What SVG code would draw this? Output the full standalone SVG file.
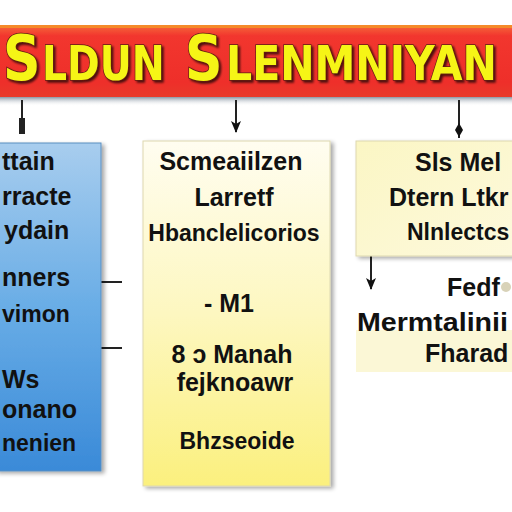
<svg xmlns="http://www.w3.org/2000/svg" width="512" height="512" viewBox="0 0 512 512">
<defs>
<linearGradient id="ban" x1="0" y1="0" x2="0" y2="1">
<stop offset="0" stop-color="#f56a3a"/><stop offset="0.15" stop-color="#f2362e"/><stop offset="0.8" stop-color="#ee2f2a"/><stop offset="1" stop-color="#e83a2a"/>
</linearGradient>
<linearGradient id="sh" x1="0" y1="0" x2="0" y2="1">
<stop offset="0" stop-color="#6f7f90"/><stop offset="1" stop-color="#ffffff" stop-opacity="0"/>
</linearGradient>
<linearGradient id="blue" x1="0" y1="0" x2="0" y2="1">
<stop offset="0" stop-color="#a8cdee"/><stop offset="0.5" stop-color="#69ade6"/><stop offset="1" stop-color="#3a8ad8"/>
</linearGradient>
<linearGradient id="yel" x1="0" y1="0" x2="0" y2="1">
<stop offset="0" stop-color="#fffdf0"/><stop offset="0.5" stop-color="#fdf7c0"/><stop offset="1" stop-color="#fbf07e"/>
</linearGradient>
<linearGradient id="yel2" x1="0" y1="0" x2="1" y2="1">
<stop offset="0" stop-color="#fbf6c4"/><stop offset="1" stop-color="#fdf9dc"/>
</linearGradient>
<filter id="ds" x="-10%" y="-10%" width="130%" height="130%"><feGaussianBlur in="SourceAlpha" stdDeviation="2"/><feOffset dx="3" dy="2"/><feComponentTransfer><feFuncA type="linear" slope="0.35"/></feComponentTransfer><feMerge><feMergeNode/><feMergeNode in="SourceGraphic"/></feMerge></filter>
<filter id="ts" x="-5%" y="-10%" width="110%" height="130%"><feGaussianBlur in="SourceAlpha" stdDeviation="0.8"/><feOffset dx="2" dy="2"/><feComponentTransfer><feFuncA type="linear" slope="0.7"/></feComponentTransfer><feMerge><feMergeNode/><feMergeNode in="SourceGraphic"/></feMerge></filter>
<marker id="ah" viewBox="0 0 12 10" refX="11" refY="5" markerWidth="12" markerHeight="10" orient="auto" markerUnits="userSpaceOnUse"><path d="M0,0 L12,5 L0,10 L3,5 z" fill="#111"/></marker>
</defs>
<style>
.t{font-family:"Liberation Sans","DejaVu Sans",sans-serif;font-weight:bold;font-size:25px;fill:#111}
.s{font-size:23px}
.m{text-anchor:middle}
.title{font-family:"DejaVu Sans",sans-serif;font-weight:bold;fill:#f6f514;stroke:#5a1a10;stroke-width:1.5;paint-order:stroke}
.big{font-size:62px}
.cap{font-size:48px}
.c{stroke:#222;stroke-width:2;fill:none}
</style>
<rect width="512" height="512" fill="#ffffff"/>
<g id="banner">
<rect x="0" y="96" width="512" height="10" fill="url(#sh)"/>
<rect x="0" y="25" width="512" height="72" fill="url(#ban)"/>
<rect x="0" y="25" width="512" height="3" fill="#f58a2a"/>
<g filter="url(#ts)">
<text class="title big" transform="translate(3,80) scale(0.84,1)">S</text>
<text class="title cap" transform="translate(42,80) scale(0.82,1)">LDUN</text>
<text class="title big" transform="translate(185,80) scale(0.84,1)">S</text>
<text class="title cap" transform="translate(226,80) scale(0.855,1)">LENMNIYAN</text>
</g>
</g>
<g id="connectors">
<line class="c" x1="22" y1="100" x2="22" y2="134"/>
<path d="M19,118 h6 v16 h-6 z" fill="#222"/>
<line class="c" x1="236" y1="100" x2="236" y2="132" marker-end="url(#ah)"/>
<line class="c" x1="459" y1="100" x2="459" y2="138"/>
<path d="M459,123 l4,7 l-4,7 l-4,-7 z" fill="#111"/>
<line class="c" x1="101" y1="282" x2="122" y2="282" stroke-width="2.5"/>
<line class="c" x1="101" y1="348" x2="122" y2="348" stroke-width="2.5"/>
<line class="c" x1="371" y1="256" x2="371" y2="289" marker-end="url(#ah)"/>
</g>
<g id="left-box">
<rect x="-5" y="143" width="106" height="328" fill="url(#blue)" stroke="#5a8fc0" stroke-width="1" filter="url(#ds)"/>
<text class="t" x="2" y="170">ttain</text>
<text class="t" x="2" y="205">rracte</text>
<text class="t" x="4" y="239">ydain</text>
<text class="t" x="2" y="286">nners</text>
<text class="t s" x="2" y="322">vimon</text>
<text class="t" x="2" y="388">Ws</text>
<text class="t" x="2" y="418">onano</text>
<text class="t s" x="2" y="451">nenien</text>
</g>
<g id="middle-box">
<rect x="143" y="141" width="187" height="345" fill="url(#yel)" stroke="#ddd8b0" stroke-width="1" filter="url(#ds)"/>
<text class="t m" x="231" y="170">Scmeaiilzen</text>
<text class="t m" x="234" y="206">Larretf</text>
<text class="t m s" x="234" y="241">Hbanclelicorios</text>
<text class="t m" x="229" y="312">- M1</text>
<text class="t m" x="232" y="363">8 ɔ  Manah</text>
<text class="t m" x="235" y="391">fejknoawr</text>
<text class="t m s" x="237" y="449">Bhzseoide</text>
</g>
<g id="right-top-box">
<rect x="356" y="141" width="160" height="115" fill="url(#yel2)" stroke="#ddd8b0" stroke-width="1" filter="url(#ds)"/>
<text class="t" x="415" y="171">Sls Mel</text>
<text class="t" x="389" y="206">Dtern Ltkr</text>
<text class="t s" x="407" y="240">Nlnlectcs</text>
</g>
<g id="right-bottom-box">
<rect x="356" y="330" width="160" height="42" fill="#fbf7d6"/>
<text class="t" x="447" y="296">Fedf</text>
<circle cx="506" cy="287" r="5" fill="#d8d2b8"/>
<text class="t" x="357" y="331" textLength="151" lengthAdjust="spacingAndGlyphs">Mermtalinii</text>
<text class="t" x="425" y="362">Fharad</text>
</g>
</svg>
